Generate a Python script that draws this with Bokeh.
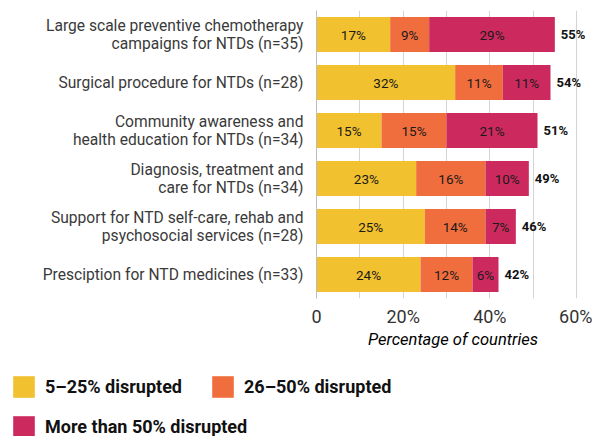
from bokeh.plotting import figure
from bokeh.models import (ColumnDataSource, FactorRange, Range1d, LabelSet, Legend,
                          LegendItem, FixedTicker, CustomJSTickFormatter)
from bokeh.core.properties import value
from bokeh.embed import file_html
from bokeh.resources import INLINE

categories = [
    "Large scale preventive chemotherapy\ncampaigns for NTDs (n=35)",
    "Surgical procedure for NTDs (n=28)",
    "Community awareness and\nhealth education for NTDs (n=34)",
    "Diagnosis, treatment and\ncare for NTDs (n=34)",
    "Support for NTD self-care, rehab and\npsychosocial services (n=28)",
    "Presciption for NTD medicines (n=33)",
]
low = [17, 32, 15, 23, 25, 24]
mid = [9, 11, 15, 16, 14, 12]
high = [29, 11, 21, 10, 7, 6]
totals = [55, 54, 51, 49, 46, 42]
series_names = ["5–25% disrupted", "26–50% disrupted", "More than 50% disrupted"]
colors = ["#F1C12F", "#F06E3D", "#CC2A5E"]
x_ticks = [0, 20, 40, 60]
grid_ticks = [10, 20, 30, 40, 50, 60]

src = ColumnDataSource(dict(
    cat=categories, low=low, mid=mid, high=high, total=totals,
    total_lbl=[f"{t}%" for t in totals],
))

p = figure(
    y_range=FactorRange(*categories[::-1]),
    x_range=Range1d(0, 63),
    width=592, height=360,
    min_border_left=316, min_border_right=3, min_border_top=10, min_border_bottom=62,
    output_backend="svg", toolbar_location=None,
)
p.outline_line_color = None

rs = p.hbar_stack(["low", "mid", "high"], y="cat", height=0.73, color=colors, source=src,
                  line_color=None)

# inside labels
series = [low, mid, high]
for i, vals in enumerate(series):
    starts = [sum(series[j][n] for j in range(i)) for n in range(len(vals))]
    s = ColumnDataSource(dict(cat=categories,
                              x=[a + b / 2 for a, b in zip(starts, vals)],
                              t=[f"{v}%" for v in vals]))
    p.add_layout(LabelSet(x="x", y="cat", text="t", source=s, text_align="center",
                          text_baseline="middle", text_font=value("Roboto"),
                          text_font_size="13.5px", text_color="#1a1a1a"))

p.add_layout(LabelSet(x="total", y="cat", text="total_lbl", source=src, x_offset=6,
                      text_align="left", text_baseline="middle", text_font=value("Roboto"),
                      text_font_size="13px", text_font_style="bold", text_color="#111111"))

# axes
p.xaxis.ticker = FixedTicker(ticks=x_ticks)
p.xaxis.formatter = CustomJSTickFormatter(code="return tick == 0 ? '0' : tick + '%'")
p.xaxis.axis_line_color = None
p.xaxis.major_tick_line_color = None
p.xaxis.minor_tick_line_color = None
p.xaxis.major_tick_out = 0
p.xaxis.major_tick_in = 0
p.xaxis.major_label_text_font = "Roboto"
p.xaxis.major_label_text_font_size = "18px"
p.xaxis.major_label_text_color = "#333333"
p.xaxis.major_label_standoff = 7
p.xaxis.axis_label = "Percentage of countries"
p.xaxis.axis_label_text_font = "Roboto"
p.xaxis.axis_label_text_font_size = "16.5px"
p.xaxis.axis_label_text_font_style = "italic"
p.xaxis.axis_label_text_color = "#000000"
p.xaxis.axis_label_standoff = 0

p.yaxis.axis_line_color = "#bdbdbd"
p.yaxis.major_tick_line_color = None
p.yaxis.minor_tick_line_color = None
p.yaxis.major_tick_out = 0
p.yaxis.major_tick_in = 0
p.yaxis.major_label_text_font = "Roboto"
p.yaxis.major_label_text_font_size = "15.6px"
p.yaxis.major_label_text_color = "#3a3a3a"
p.yaxis.major_label_text_line_height = 1.0
p.yaxis.major_label_standoff = 13

p.xgrid.ticker = FixedTicker(ticks=grid_ticks)
p.xgrid.grid_line_color = "#d4d4d4"
p.ygrid.grid_line_color = None

# legend in its own strip below the chart (hidden copies of the series supply the keys)
lg = figure(width=592, height=76, x_range=Range1d(0, 63),
            y_range=FactorRange(*categories[::-1]),
            x_axis_location=None, y_axis_location=None,
            min_border_left=0, min_border_right=0, min_border_top=0, min_border_bottom=0,
            output_backend="svg", toolbar_location=None)
lg.outline_line_color = None
lg.xgrid.visible = False
lg.ygrid.visible = False
key_rs = lg.hbar_stack(["low", "mid", "high"], y="cat", height=0.73, color=colors,
                       source=src, line_color=None)
for r in key_rs:
    r.visible = False

common = dict(glyph_width=27, glyph_height=27, label_standoff=8, padding=0, margin=0,
              spacing=8, label_width=156, label_text_font="Roboto",
              label_text_font_size="18px", label_text_font_style="bold",
              label_text_color="#111111", background_fill_alpha=0,
              border_line_color=None, inactive_fill_alpha=0)
leg1 = Legend(items=[LegendItem(label=series_names[0], renderers=[key_rs[0]]),
                     LegendItem(label=series_names[1], renderers=[key_rs[1]])],
              orientation="horizontal", location=(10, 36), **common)
leg2 = Legend(items=[LegendItem(label=series_names[2], renderers=[key_rs[2]])],
              orientation="horizontal", location=(10, -4), **common)
lg.add_layout(leg1)
lg.add_layout(leg2)

open("out.html", "w").write(file_html([p, lg], INLINE))
